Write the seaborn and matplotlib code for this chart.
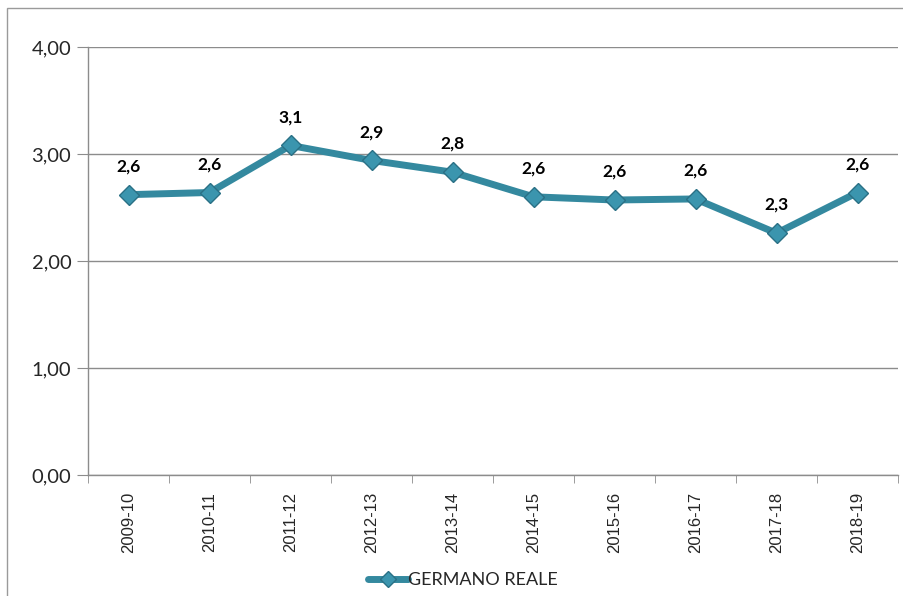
import seaborn as sns
import matplotlib.pyplot as plt
import pandas as pd
from matplotlib.patches import Rectangle

seasons = ['2009-10', '2010-11', '2011-12', '2012-13', '2013-14',
           '2014-15', '2015-16', '2016-17', '2017-18', '2018-19']
values = [2.62, 2.64, 3.08, 2.94, 2.83, 2.60, 2.57, 2.58, 2.26, 2.64]
labels = ['2,6', '2,6', '3,1', '2,9', '2,8', '2,6', '2,6', '2,6', '2,3', '2,6']
series_name = 'GERMANO REALE'

df = pd.DataFrame({'stagione': seasons, 'valore': values})
df['x'] = range(len(df))

sns.set_style('white')
plt.rcParams['font.family'] = ['Lato', 'DejaVu Sans']

fig = plt.figure(figsize=(9.04, 5.96), dpi=100)
ax = fig.add_axes([88 / 904, 1 - 475 / 596, 810 / 904, 428 / 596])

color = '#34899F'
sns.lineplot(data=df, x='x', y='valore', ax=ax, color=color, linewidth=5,
             marker='D', markersize=10, markerfacecolor='#3B95AE',
             markeredgecolor='#2A7085', markeredgewidth=1, label=series_name,
             zorder=3)

for i, (v, t) in enumerate(zip(values, labels)):
    ax.text(i, v + 0.19, t, ha='center', va='bottom', fontsize=12.5,
            fontweight='bold', color='black')

ax.set_xlim(-0.5, len(seasons) - 0.5)
ax.set_ylim(0, 4)
ax.set_yticks([0, 1, 2, 3, 4])
ax.set_yticklabels(['0,00', '1,00', '2,00', '3,00', '4,00'], fontsize=14.5)
ax.yaxis.grid(True, color='#8c8c8c', linewidth=1)
ax.set_axisbelow(True)

ax.set_xticks(range(len(seasons)))
ax.set_xticklabels(seasons, rotation=90, fontsize=12,
                   family=['Liberation Sans', 'DejaVu Sans'])
ax.tick_params(axis='x', length=0, pad=12)
ax.set_xticks([i - 0.5 for i in range(len(seasons) + 1)], minor=True)
ax.tick_params(axis='x', which='minor', length=6, color='#8c8c8c', bottom=True)
ax.tick_params(axis='y', length=8, color='#8c8c8c', left=True, pad=4)
ax.set_xlabel('')
ax.set_ylabel('')

for side in ['top', 'right']:
    ax.spines[side].set_visible(False)
for side in ['left', 'bottom']:
    ax.spines[side].set_color('#8c8c8c')
    ax.spines[side].set_linewidth(1)

ax.legend(loc='center', bbox_to_anchor=(0.463, -0.245), frameon=False,
          fontsize=13, handlelength=2.2, handletextpad=0.05,
          markerscale=0.8)

fig.patches.append(Rectangle((7 / 904, -0.1), 1.2, 1.1 - 8 / 596,
                             transform=fig.transFigure, fill=False,
                             edgecolor='#9a9a9a', linewidth=1))

fig.savefig('out.png', dpi=100)
